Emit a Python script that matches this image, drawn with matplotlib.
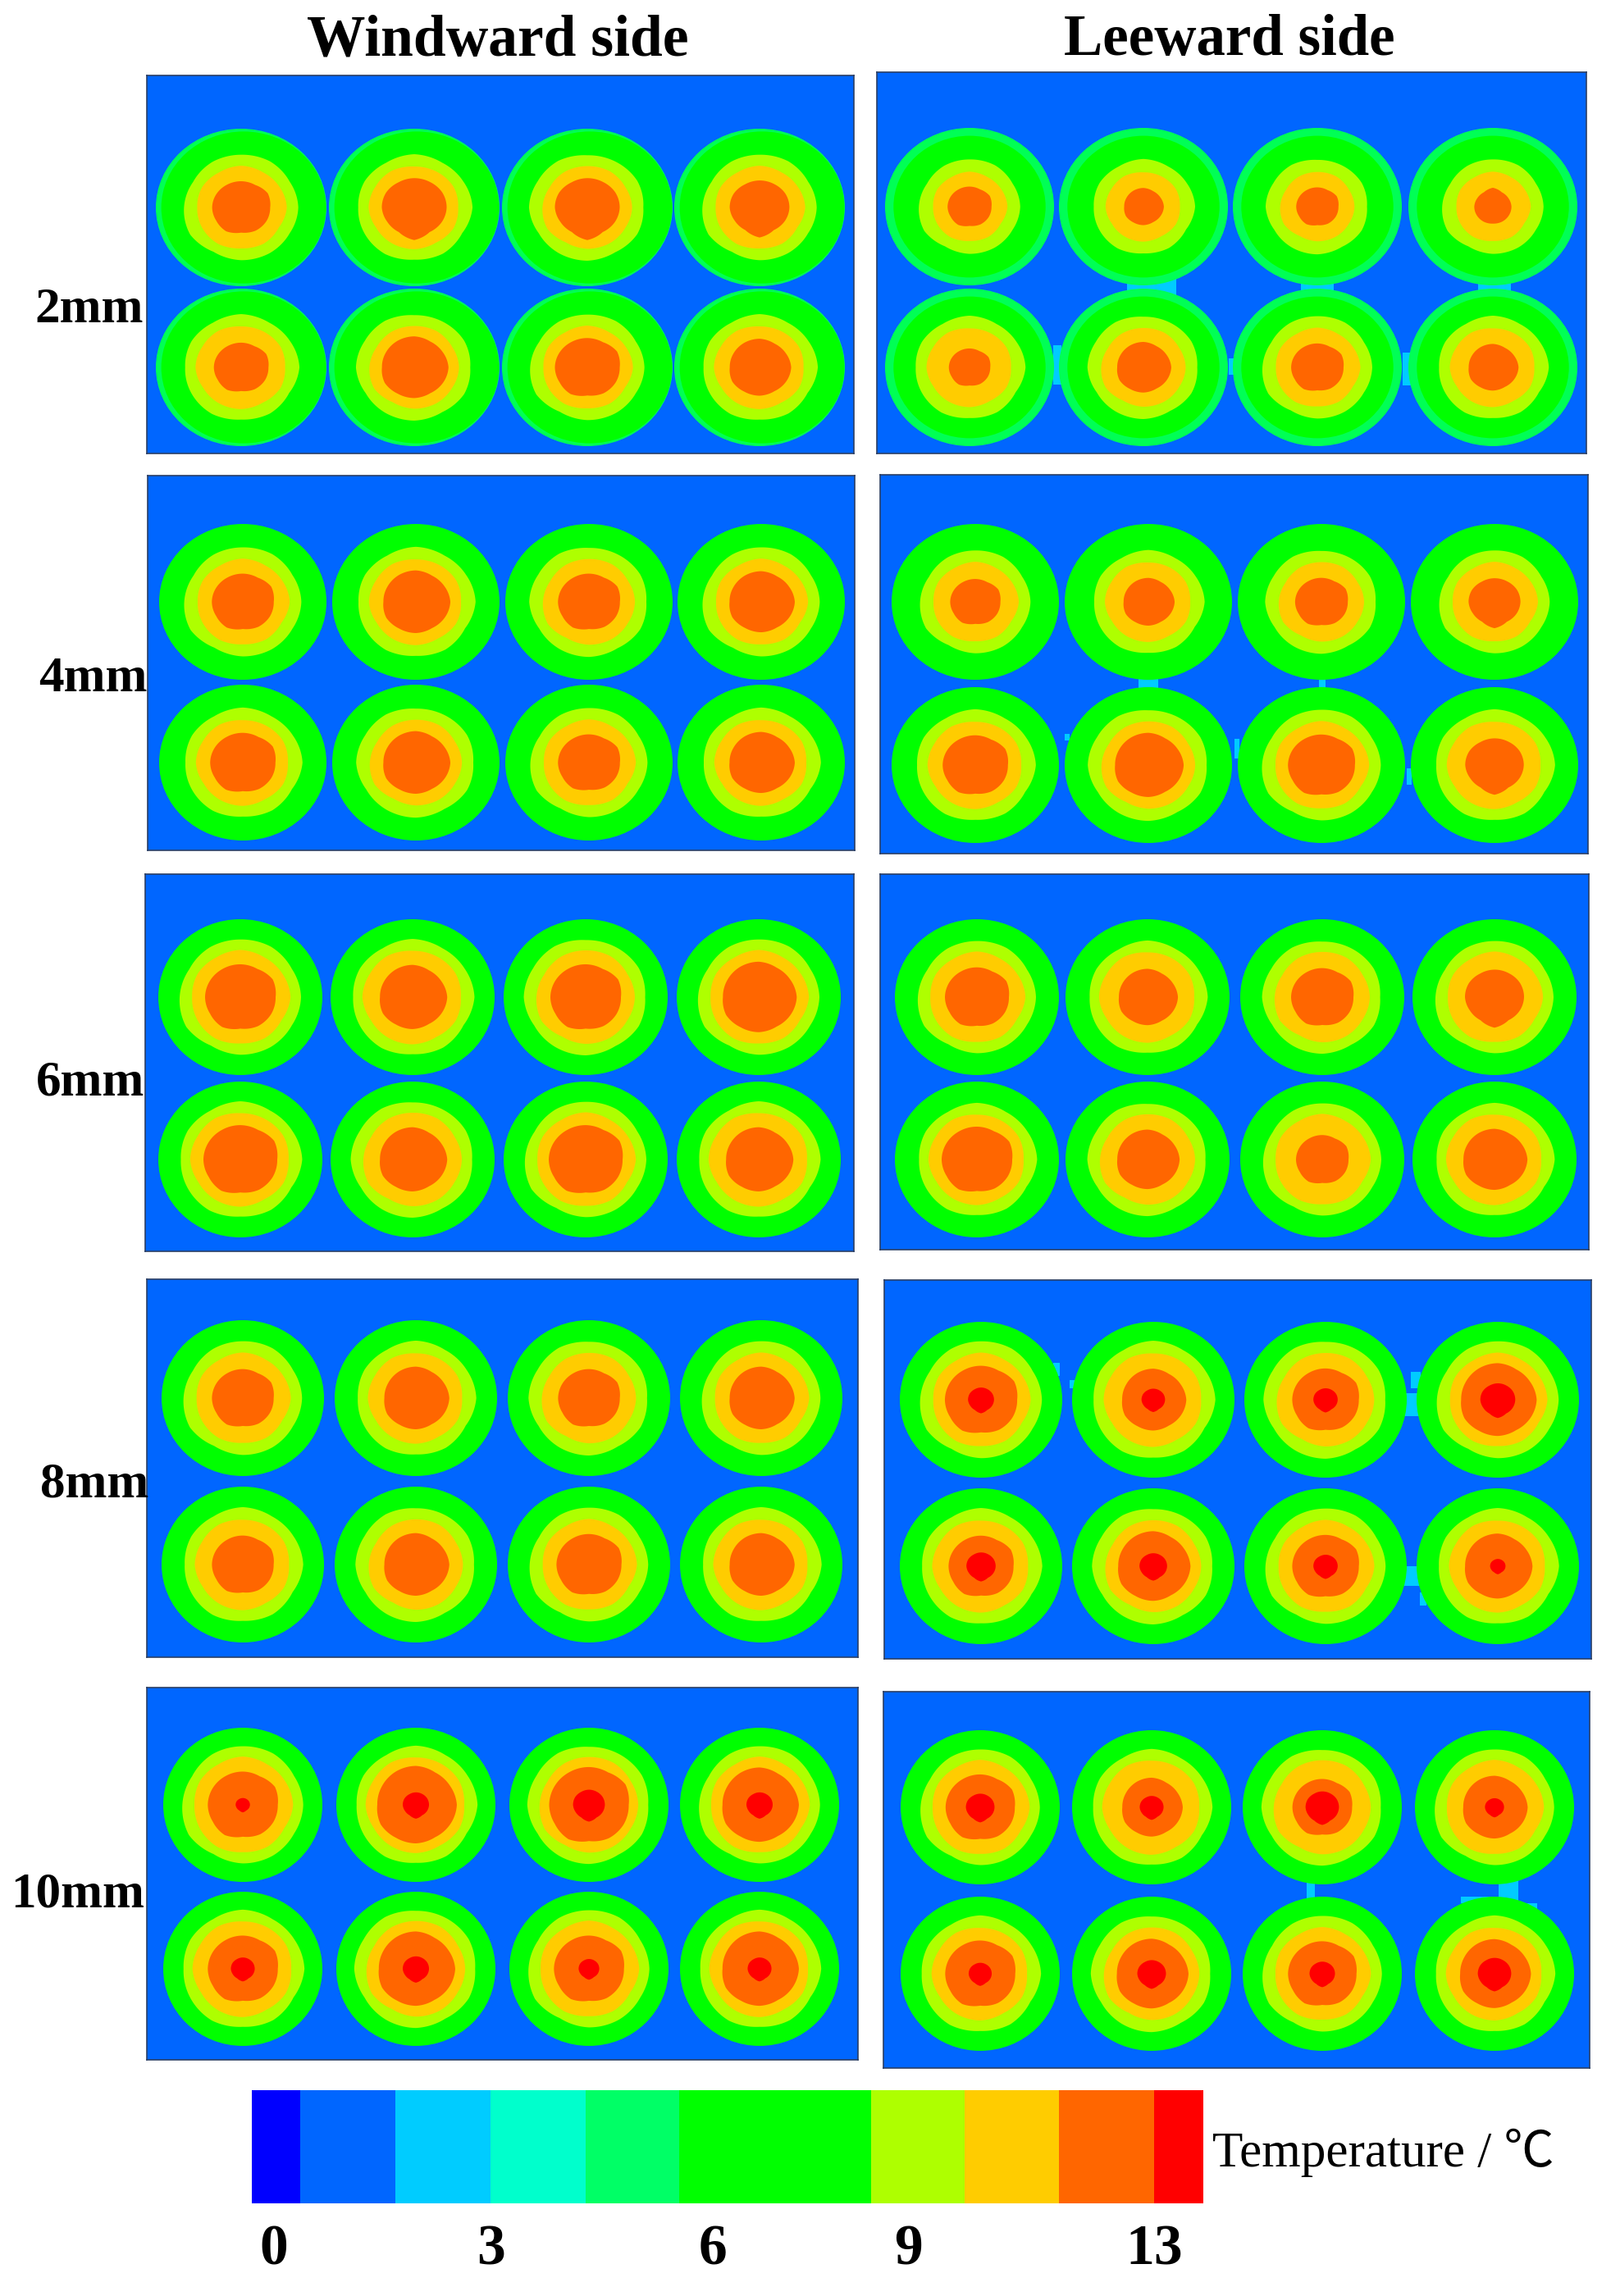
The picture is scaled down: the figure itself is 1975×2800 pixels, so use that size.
import numpy as np
import matplotlib
matplotlib.use("Agg")
import matplotlib.pyplot as plt
from matplotlib.colors import ListedColormap, BoundaryNorm
from matplotlib.patches import Ellipse, Polygon, Rectangle

W, H = 1975, 2800
SERIF = ["Liberation Serif", "Noto Sans CJK SC", "DejaVu Sans"]

# colours of the contour bands
BLUE, CYAN, TEAL, GREEN = "#0066FF", "#00CCFF", "#00FF55", "#00FF00"
LIME, YELLOW, ORANGE, RED = "#AEFF00", "#FFCC00", "#FF6600", "#FF0000"

ROW_LABELS = ["2mm", "4mm", "6mm", "8mm", "10mm"]
ROW_LABEL_POS = [(175, 378), (179, 828), (176, 1321), (181, 1810), (176, 2311)]

# panels in order 2mm W, 2mm L, 4mm W, 4mm L ... : left, top, right, bottom (px)
PANEL_BOX = [
    (179, 92, 1041, 553), (1069, 88, 1934, 553),
    (180, 580, 1042, 1037), (1073, 579, 1936, 1041),
    (177, 1066, 1041, 1526), (1073, 1066, 1937, 1524),
    (179, 1560, 1046, 2021), (1078, 1561, 1940, 2023),
    (179, 2058, 1046, 2512), (1077, 2063, 1938, 2522),
]
COL_X = [
    (294, 505, 716, 926), (1182, 1394, 1606, 1820),
    (296, 507, 718, 928), (1189, 1400, 1611, 1822),
    (293, 503, 714, 925), (1191, 1399, 1612, 1822),
    (296, 507, 718, 928), (1196, 1406, 1616, 1826),
    (296, 507, 718, 926), (1195, 1404, 1612, 1822),
]
ROW_Y = [
    (253, 448), (252, 448), (734, 930), (734, 933), (1216, 1414),
    (1216, 1414), (1705, 1908), (1707, 1910), (2201, 2401), (2204, 2407),
]
DISC_RX = [104, 103, 102, 102, 100, 100, 99, 99, 97, 97]
DISC_RY = [96, 96, 95, 95, 95, 95, 95, 95, 94, 94]

# inner extent of the pure green band (less than 1 leaves a teal rim)
GREEN_FRAC = [0.965, 0.90, 1, 1, 1, 1, 1, 1, 1, 1]
GREEN_SHIFT = [3, 0, 0, 0, 0, 0, 0, 0, 0, 0]

# band extents as a fraction of the disc radius, [upper row, lower row]
LIME_FRAC = [
    (.67, .67), (.60, .65), (.70, .70), (.66, .71), (.74, .74),
    (.72, .72), (.73, .73), (.75, .74), (.76, .76), (.75, .75),
]
YELLOW_FRAC = [
    (.525, .525), (.44, .50), (.55, .55), (.51, .56), (.60, .60),
    (.58, .58), (.58, .58), (.60, .59), (.62, .62), (.61, .60),
]
# per disc: upper row then lower row
ORANGE_FRAC = [
    (.34, .38, .38, .35, .32, .39, .38, .36),
    (.26, .235, .25, .22, .245, .32, .31, .295),
    (.37, .40, .37, .39, .39, .40, .37, .39),
    (.30, .305, .315, .31, .39, .41, .40, .35),
    (.43, .41, .43, .45, .45, .41, .45, .41),
    (.39, .36, .38, .36, .43, .38, .32, .39),
    (.38, .40, .38, .40, .38, .40, .40, .40),
    (.445, .395, .41, .465, .40, .445, .41, .415),
    (.44, .50, .50, .48, .44, .48, .44, .48),
    (.435, .38, .375, .405, .44, .45, .43, .445),
]
RED_FRAC = [
    None, None, None, None, None, None, None,
    (.16, .145, .15, .215, .18, .17, .15, .095),
    (.09, .165, .20, .165, .15, .165, .13, .15),
    (.18, .15, .21, .12, .145, .18, .16, .21),
]

# hand-read outlines of the contours: relative radius every 30 degrees
CORE_OUTLINES = [
    (1.0, 1.06, .97, .98, .98, .99, 1.0, .99, 1.03, .94, 1.0, 1.01),
    (1.03, .99, .97, 1.01, 1.0, .98, .97, 1.02, .99, 1.0, .97, 1.0),
]
CORE_POINT_DOWN = (1.0, 1.0, .98, .98, .97, 1.0, 1.0, .96, .95, 1.09, .95, .98)
CORE_POINT_UP = (1.0, .97, .96, 1.09, .96, .97, 1.0, 1.0, 1.0, .98, 1.0, 1.0)
POINTED_DOWN = [(0, 1), (0, 2), (0, 3), (3, 3), (3, 7), (5, 3)]
POINTED_UP = [(1, 3)]
RING_OUTLINES = [
    (1.0, .98, 1.01, 1.0, 1.0, .97, 1.0, 1.03, .97, 1.0, 1.0, .98),
    (1.02, .99, .98, 1.01, .98, 1.0, .98, 1.0, 1.02, .99, 1.01, .97),
    (.98, 1.01, 1.0, .99, 1.02, 1.0, 1.02, .98, 1.0, 1.01, .98, 1.01),
]

# small cyan patches between discs: panel, x, y, half width, half height
GAP_PATCHES = [
    (1, 1404, 348, 30, 14), (1, 1606, 348, 20, 12), (1, 1822, 348, 20, 10),
    (1, 1289, 445, 5, 24), (1, 1501, 447, 3, 10), (1, 1715, 450, 5, 20),
    (3, 1400, 833, 12, 8), (3, 1612, 833, 4, 6), (3, 1508, 913, 3, 12),
    (3, 1718, 947, 3, 10), (3, 1301, 899, 3, 4),
    (7, 1722, 1713, 14, 14), (7, 1726, 1683, 6, 10), (7, 1288, 1670, 4, 8),
    (7, 1307, 1688, 3, 5), (7, 1722, 1922, 14, 12), (7, 1735, 1950, 4, 8),
    (9, 1598, 2305, 5, 12), (9, 1839, 2307, 12, 14), (9, 1801, 2317, 20, 4),
    (9, 1865, 2325, 9, 4),
]

# colour bar
BAR_COLORS = ["#0000FF", "#0066FF", "#00CCFF", "#00FFCC", "#00FF66", "#00FF00",
              "#00FF00", "#AEFF00", "#FFCC00", "#FF6600", "#FF0000"]
BAR_EDGES = [307, 366, 482, 598, 714, 828, 946, 1062, 1176, 1291, 1407, 1467]
BAR_TICKS = ["0", "3", "6", "9", "13"]
BAR_TICK_X = [334, 598, 869, 1108, 1407]


def px_text(x, y, s, **kw):
    return fig.text(x / W, 1 - y / H, s, family=SERIF, color="black", **kw)


def contour(ax, cx, cy, rx, ry, frac, outline, color, zorder):
    theta = np.linspace(0, 2 * np.pi, 181)
    knots = np.linspace(0, 2 * np.pi, 13)
    rel = np.interp(theta, knots, list(outline) + [outline[0]])
    xs = cx + rx * frac * rel * np.cos(theta)
    ys = cy - ry * frac * rel * np.sin(theta)
    ax.add_patch(Polygon(np.column_stack([xs, ys]), closed=True, fc=color,
                         ec="none", zorder=zorder))


def core_outline(p, d):
    if (p, d) in POINTED_DOWN:
        return CORE_POINT_DOWN
    if (p, d) in POINTED_UP:
        return CORE_POINT_UP
    return CORE_OUTLINES[d % 2]


def draw_panel(ax, p):
    rx, ry = DISC_RX[p], DISC_RY[p]
    for _, x, y, hw, hh in [g for g in GAP_PATCHES if g[0] == p]:
        ax.add_patch(Rectangle((x - hw, y - hh), 2 * hw, 2 * hh, fc=CYAN, ec="none", zorder=1))
    for r, cy in enumerate(ROW_Y[p]):
        for c, cx in enumerate(COL_X[p]):
            d = r * 4 + c
            gf = GREEN_FRAC[p]
            ax.add_patch(Ellipse((cx, cy), 2 * rx, 2 * ry, fc=TEAL if gf < 1 else GREEN,
                                 ec="none", zorder=2))
            if gf < 1:
                ax.add_patch(Ellipse((cx + GREEN_SHIFT[p], cy), 2 * rx * gf, 2 * ry * gf,
                                     fc=GREEN, ec="none", zorder=3))
            contour(ax, cx, cy, rx, ry, LIME_FRAC[p][r], RING_OUTLINES[d % 3], LIME, 4)
            contour(ax, cx, cy, rx, ry, YELLOW_FRAC[p][r], RING_OUTLINES[(d + 1) % 3], YELLOW, 5)
            contour(ax, cx, cy, rx, ry, ORANGE_FRAC[p][d], core_outline(p, d), ORANGE, 6)
            if RED_FRAC[p] is not None:
                contour(ax, cx, cy, rx, ry, RED_FRAC[p][d], CORE_POINT_DOWN, RED, 7)


fig = plt.figure(figsize=(W / 100, H / 100), dpi=100, facecolor="white")

for p, (x0, y0, x1, y1) in enumerate(PANEL_BOX):
    ax = fig.add_axes([x0 / W, 1 - y1 / H, (x1 - x0) / W, (y1 - y0) / H])
    ax.set_xlim(x0, x1)
    ax.set_ylim(y1, y0)
    ax.set_facecolor(BLUE)
    ax.set_xticks([])
    ax.set_yticks([])
    for sp in ax.spines.values():
        sp.set_color("#2b3f66")
        sp.set_linewidth(1.2)
    draw_panel(ax, p)

# colour bar
cax = fig.add_axes([BAR_EDGES[0] / W, 1 - 2687 / H,
                    (BAR_EDGES[-1] - BAR_EDGES[0]) / W, (2687 - 2549) / H])
norm = BoundaryNorm(np.arange(len(BAR_COLORS) + 1), len(BAR_COLORS))
cax.pcolormesh(BAR_EDGES, [0, 1], [np.arange(len(BAR_COLORS)) + 0.5],
               cmap=ListedColormap(BAR_COLORS), norm=norm)
cax.axis("off")

for x, s in zip(BAR_TICK_X, BAR_TICKS):
    px_text(x, 2745, s, fontsize=50, fontweight="bold", ha="center", va="center")
px_text(1478, 2625, "Temperature / ℃", fontsize=44, ha="left", va="center")

px_text(607, 50, "Windward side", fontsize=51.5, fontweight="bold", ha="center", va="center")
px_text(1499, 50, "Leeward side", fontsize=51, fontweight="bold", ha="center", va="center")
for (x, y), s in zip(ROW_LABEL_POS, ROW_LABELS):
    px_text(x, y, s, fontsize=44, fontweight="bold", ha="right", va="center")

fig.savefig("out.png", dpi=100)
plt.close(fig)
